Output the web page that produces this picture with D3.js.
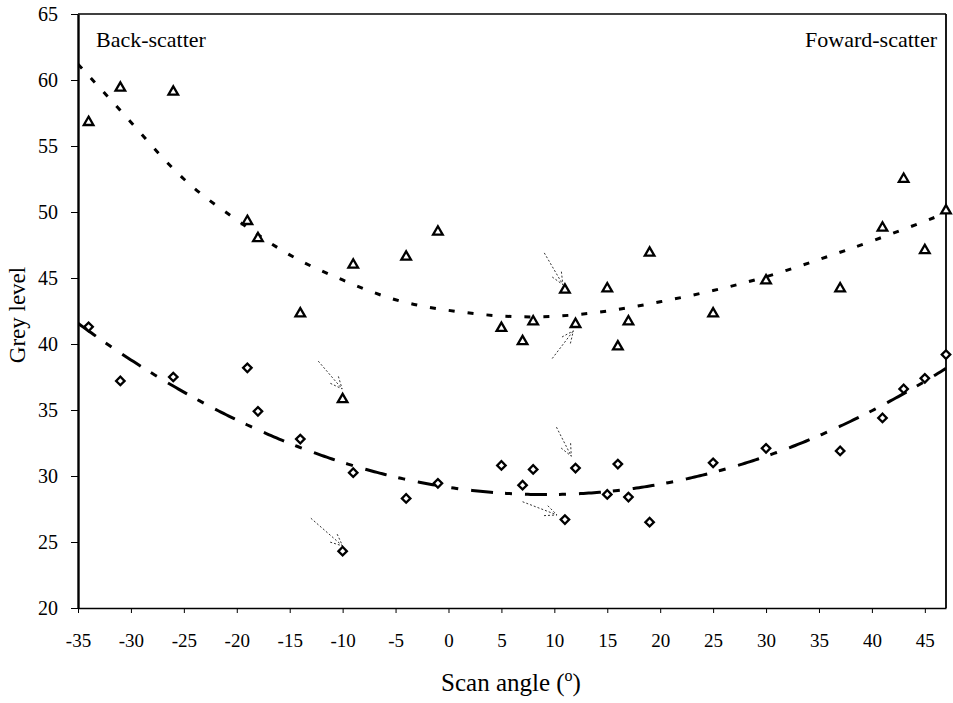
<!DOCTYPE html>
<html>
<head>
<meta charset="utf-8">
<script src="https://cdn.jsdelivr.net/npm/d3@7"></script>
<style>
  body { margin: 0; background: #fff; }
  svg { display: block; }
  text { font-family: "Liberation Serif", "Times New Roman", serif; fill: #000; }
</style>
</head>
<body>
<svg id="chart" width="953" height="703"></svg>
<script>
// scan angles shared by both series
const angles = [-34, -31, -26, -19, -18, -14, -10, -9, -4, -1, 5, 7, 8, 11, 12, 15, 16, 17, 19, 25, 30, 37, 41, 43, 45, 47];
// triangles (upper series)
const triangleGrey = [56.8, 59.4, 59.1, 49.3, 48.0, 42.3, 35.8, 46.0, 46.6, 48.5, 41.2, 40.2, 41.7, 44.1, 41.5, 44.2, 39.8, 41.7, 46.9, 42.3, 44.8, 44.2, 48.8, 52.5, 47.1, 50.1];
// diamonds (lower series)
const diamondGrey = [41.3, 37.2, 37.5, 38.2, 34.9, 32.8, 24.3, 30.25, 28.3, 29.45, 30.8, 29.3, 30.5, 26.7, 30.6, 28.6, 30.9, 28.4, 26.5, 31.0, 32.1, 31.9, 34.4, 36.6, 37.4, 39.2];

// upper trend line
const topTrendAngles = [-35, -30, -25, -20, -15, -10, -5, 0, 5, 10, 15, 20, 25, 30, 35, 40, 45, 47];
const topTrendGrey = [61.2, 56.8, 52.5, 49.4, 46.75, 44.85, 43.35, 42.55, 42.12, 42.1, 42.5, 43.2, 44.05, 45.1, 46.4, 47.8, 49.3, 49.95];

const xTicks = d3.range(-35, 46, 5);
const yTicks = d3.range(20, 66, 5);

// dotted annotation arrows, in data units [fromAngle, fromGrey, toAngle, toGrey]
const arrows = [
  [-12.3, 38.7, -10.05, 36.6],
  [-13.0, 26.8, -10.0, 24.7],
  [9.05, 46.9, 10.8, 44.5],
  [9.8, 38.9, 11.8, 41.0],
  [10.2, 33.7, 11.6, 31.5],
  [7.0, 28.05, 10.25, 27.05]
];

const mLeft = 78, mTop = 14, mRight = 946, mBottom = 608;

const svg = d3.select("#chart");

const x = d3.scaleLinear().domain([-35, 47]).range([mLeft, mRight]);
const y = d3.scaleLinear().domain([20, 65]).range([mBottom, mTop]);

// quadratic least-squares trend (like the spreadsheet trendline)
function quadFit(xs, ys) {
  let s = [0, 0, 0, 0, 0], t = [0, 0, 0];
  xs.forEach((xv, i) => {
    for (let k = 0; k < 5; k++) s[k] += Math.pow(xv, k);
    for (let k = 0; k < 3; k++) t[k] += ys[i] * Math.pow(xv, k);
  });
  const m = [[s[0], s[1], s[2], t[0]], [s[1], s[2], s[3], t[1]], [s[2], s[3], s[4], t[2]]];
  for (let c = 0; c < 3; c++) {
    for (let r = c + 1; r < 3; r++) {
      const f = m[r][c] / m[c][c];
      for (let k = c; k < 4; k++) m[r][k] -= f * m[c][k];
    }
  }
  const b = [0, 0, 0];
  for (let r = 2; r >= 0; r--) {
    let v = m[r][3];
    for (let k = r + 1; k < 3; k++) v -= m[r][k] * b[k];
    b[r] = v / m[r][r];
  }
  return (v) => b[0] + b[1] * v + b[2] * v * v;
}

const fitBottom = quadFit(angles, diamondGrey);
const xs = d3.range(-35, 47.01, 0.25);

svg.append("clipPath").attr("id", "plot")
  .append("rect").attr("x", mLeft).attr("y", mTop).attr("width", mRight - mLeft).attr("height", mBottom - mTop);

const line = d3.line().x(d => x(d[0])).y(d => y(d[1]));

const curves = svg.append("g").attr("clip-path", "url(#plot)");
curves.append("path")
  .attr("d", line.curve(d3.curveNatural)(topTrendAngles.map((a, i) => [a, topTrendGrey[i]])))
  .attr("fill", "none").attr("stroke", "#000").attr("stroke-width", 3)
  .attr("stroke-dasharray", "6 13");
curves.append("path")
  .attr("d", line.curve(d3.curveLinear)(xs.map(v => [v, fitBottom(v)])))
  .attr("fill", "none").attr("stroke", "#000").attr("stroke-width", 3)
  .attr("stroke-dasharray", "22 12 7 13");

// axes
const xAxis = d3.axisBottom(x).tickValues(xTicks).tickFormat(d => String(d))
  .tickSize(5).tickPadding(21).tickSizeOuter(0);
const gx = svg.append("g").attr("transform", `translate(0,${mBottom})`).call(xAxis);
gx.select(".domain").attr("stroke-width", 1.6);
gx.selectAll(".tick text").attr("font-size", 19).attr("fill", "#000");

const yAxis = d3.axisLeft(y).tickValues(yTicks).tickSize(7).tickPadding(13).tickSizeOuter(0);
const gy = svg.append("g").attr("transform", `translate(${mLeft},0)`).call(yAxis);
gy.select(".domain").attr("stroke-width", 2.4);
gy.selectAll(".tick text").attr("font-size", 20).attr("fill", "#000");

// frame top and right
svg.append("line").attr("x1", mLeft).attr("x2", mRight).attr("y1", mTop).attr("y2", mTop)
  .attr("stroke", "#000").attr("stroke-width", 1.6);
svg.append("line").attr("x1", mRight).attr("x2", mRight).attr("y1", mTop).attr("y2", mBottom)
  .attr("stroke", "#000").attr("stroke-width", 1.8);

// annotation arrows
const ag = svg.append("g").attr("stroke", "#333").attr("stroke-width", 1)
  .attr("stroke-dasharray", "2 2").attr("fill", "none");
arrows.forEach(a => {
  const x1 = x(a[0]), y1 = y(a[1]), x2 = x(a[2]), y2 = y(a[3]);
  const ang = Math.atan2(y2 - y1, x2 - x1);
  const hl = 13, spread = 0.42;
  const h1 = [x2 - hl * Math.cos(ang - spread), y2 - hl * Math.sin(ang - spread)];
  const h2 = [x2 - hl * Math.cos(ang + spread), y2 - hl * Math.sin(ang + spread)];
  ag.append("path").attr("d", `M${x1},${y1}L${x2},${y2}M${h1[0]},${h1[1]}L${x2},${y2}L${h2[0]},${h2[1]}`);
});

// markers
const tri = d3.symbol(d3.symbolTriangle, 40);
svg.append("g").selectAll("path").data(angles).join("path")
  .attr("d", tri)
  .attr("transform", (d, i) => `translate(${x(d)},${y(triangleGrey[i])})`)
  .attr("fill", "#fff").attr("stroke", "#000").attr("stroke-width", 2.3);

const dia = d3.symbol(d3.symbolSquare, 36);
svg.append("g").selectAll("path").data(angles).join("path")
  .attr("d", dia)
  .attr("transform", (d, i) => `translate(${x(d)},${y(diamondGrey[i])}) rotate(45)`)
  .attr("fill", "#fff").attr("stroke", "#000").attr("stroke-width", 2.3);

// labels
svg.append("text").attr("x", 96).attr("y", 47).attr("font-size", 22).text("Back-scatter");
svg.append("text").attr("x", 937).attr("y", 47).attr("font-size", 22)
  .attr("text-anchor", "end").text("Foward-scatter");

const xt = svg.append("text").attr("x", 511).attr("y", 691).attr("font-size", 25)
  .attr("text-anchor", "middle");
xt.append("tspan").text("Scan angle (");
xt.append("tspan").attr("font-size", 16).attr("dy", -10).text("o");
xt.append("tspan").attr("dy", 10).text(")");

svg.append("text").attr("transform", "translate(25,315) rotate(-90)")
  .attr("font-size", 23).attr("text-anchor", "middle").text("Grey level");
</script>
</body>
</html>
